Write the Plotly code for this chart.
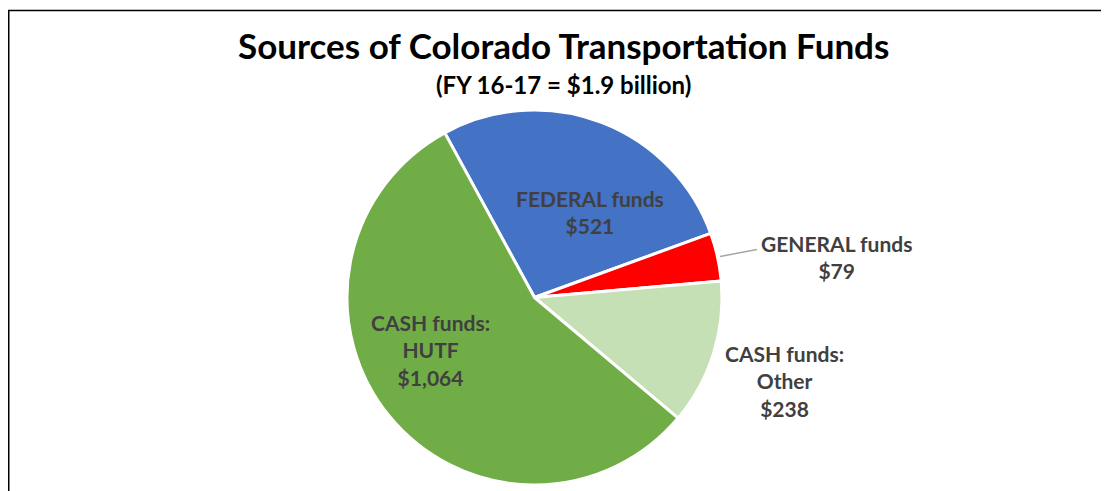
import plotly.graph_objects as go

labels = ["FEDERAL funds", "GENERAL funds", "CASH funds:<br>Other", "CASH funds:<br>HUTF"]
values = [521, 79, 238, 1064]
value_labels = ["$521", "$79", "$238", "$1,064"]
colors = ["#4472C4", "#FF0000", "#C5E0B4", "#70AD47"]

title = "Sources of Colorado Transportation Funds"
subtitle = "(FY 16-17 = $1.9 billion)"

W, H = 1109, 491
OFF = 8  # page body margin
FONT = "Lato"
LABEL_COLOR = "#404040"

# label placement (screen pixels from top-left) – layout, not data
label_pos = [(590, 212), (836, 257), (784, 381), (430, 350)]


def px(x, y):
    return (x - OFF) / W, 1 - (y - OFF) / H


fig = go.Figure(go.Pie(
    labels=[l.replace("<br>", " ") for l in labels],
    values=values,
    textinfo="none",
    sort=False,
    direction="clockwise",
    rotation=-28.6,
    marker=dict(colors=colors, line=dict(color="white", width=3)),
    domain=dict(x=[(347 - OFF) / W, (722 - OFF) / W],
                y=[1 - (485 - OFF) / H, 1 - (110 - OFF) / H]),
    showlegend=False,
    hoverinfo="label+value",
))

annotations = []
for lab, val, (lx, ly) in zip(labels, value_labels, label_pos):
    ax_, ay_ = px(lx, ly)
    annotations.append(dict(
        text=f"<b>{lab}<br>{val}</b>", x=ax_, y=ay_, xref="paper", yref="paper",
        showarrow=False, xanchor="center", yanchor="middle", align="center",
        font=dict(family=FONT, size=21, color=LABEL_COLOR)))

tx, ty = px(563, 45)
sx, sy = px(563, 84)
annotations += [
    dict(text=f"<b>{title}</b>", x=tx, y=ty, xref="paper", yref="paper", showarrow=False,
         font=dict(family=FONT, size=35, color="black"), xanchor="center", yanchor="middle"),
    dict(text=f"<b>{subtitle}</b>", x=sx, y=sy, xref="paper", yref="paper", showarrow=False,
         font=dict(family=FONT, size=24, color="black"), xanchor="center", yanchor="middle"),
]

l0x, l0y = px(720, 256.5)
l1x, l1y = px(757, 249.5)
bx0, by0 = px(8.75, 10.5)

fig.update_layout(
    width=W, height=H,
    margin=dict(l=0, r=0, t=0, b=0),
    paper_bgcolor="white",
    plot_bgcolor="white",
    annotations=annotations,
    shapes=[
        dict(type="rect", xref="paper", yref="paper",
             x0=bx0, x1=1.02, y0=-0.05, y1=by0,
             line=dict(color="black", width=1.5), fillcolor="rgba(0,0,0,0)"),
        dict(type="line", xref="paper", yref="paper", x0=l0x, y0=l0y, x1=l1x, y1=l1y,
             line=dict(color="#A6A6A6", width=1.5)),
    ],
)

fig.write_html("out.html")
